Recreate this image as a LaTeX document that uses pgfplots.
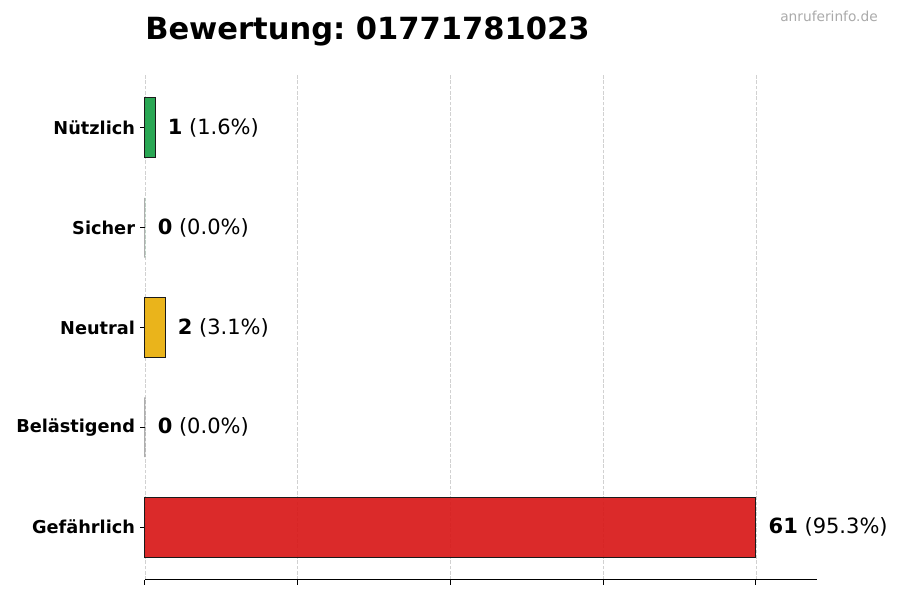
\documentclass[border=0pt]{standalone}
\usepackage{fontspec}
\setmainfont{DejaVu Sans}
\usepackage{pgfplots}
\pgfplotsset{compat=1.18}
\definecolor{gruen}{HTML}{18A045}
\definecolor{gelb}{HTML}{E8AE08}
\definecolor{rot}{HTML}{D81818}
\definecolor{kante}{HTML}{1A1A1A}
\definecolor{wasser}{HTML}{AAAAAA}
\frenchspacing

\begin{document}
\begin{tikzpicture}[x=0.75pt,y=0.75pt]
\useasboundingbox (0,0) rectangle (900,600);

\begin{axis}[
    at={(108.75pt,15pt)}, anchor=south west,
    scale only axis,
    width=504pt, height=378.75pt,
    clip=false,
    xbar, bar width=0.6, bar shift=0pt,
    xmin=0, xmax=67.1,
    ymin=-0.53, ymax=4.53,
    enlargelimits=false,
    axis x line*=bottom,
    axis y line*=left,
    y axis line style={draw=none},
    x axis line style={line width=0.75pt},
    tick align=outside,
    major tick length=3.7pt,
    tick style={line width=0.75pt, black},
    xtick={0,15.25,30.5,45.75,61},
    xticklabels={},
    ytick={0,1,2,3,4},
    yticklabels={Gefährlich,Belästigend,Neutral,Sicher,Nützlich},
    yticklabel style={font=\fontsize{13.3}{16}\selectfont\bfseries, inner sep=0pt, xshift=-3.6pt},
    xmajorgrids,
    grid style={dash pattern=on 2.8pt off 1.2pt, black!18, line width=0.6pt},
    nodes near coords align={anchor=west},
    every node near coord/.append style={font=\fontsize{15.75}{18}\selectfont, inner sep=0pt, xshift=9.2pt, black, fill opacity=1},
    every axis plot/.append style={draw=kante, line width=0.75pt, fill opacity=0.92},
]
% Gefaehrlich
\addplot[fill=rot, nodes near coords={\textbf{61} (95.3\%)}] coordinates {(61,0)};
% Belaestigend
\addplot[fill=black, nodes near coords={\textbf{0} (0.0\%)}] coordinates {(0,1)};
% Neutral
\addplot[fill=gelb, nodes near coords={\textbf{2} (3.1\%)}] coordinates {(2,2)};
% Sicher
\addplot[fill=gruen, nodes near coords={\textbf{0} (0.0\%)}] coordinates {(0,3)};
% Nuetzlich
\addplot[fill=gruen, nodes near coords={\textbf{1} (1.6\%)}] coordinates {(1,4)};
\end{axis}

\node[anchor=base west, inner sep=0pt, font=\fontsize{22.9}{27}\selectfont\bfseries] at (145,560) {Bewertung: 01771781023};
\node[anchor=base east, inner sep=0pt, text=wasser, font=\fontsize{10.3}{12}\selectfont] at (878,578) {anruferinfo.de};
\end{tikzpicture}
\end{document}
